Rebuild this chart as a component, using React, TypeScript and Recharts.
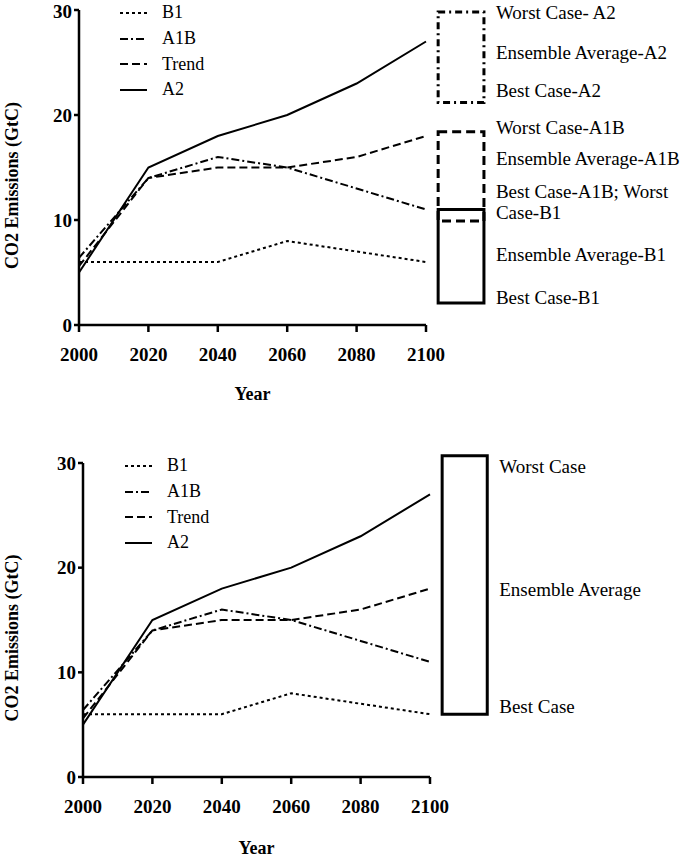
import React from 'react';
import {
  LineChart, Line, XAxis, YAxis, ReferenceArea, ReferenceDot
} from 'recharts';

const years = [2000, 2020, 2040, 2060, 2080, 2100];
const b1 = [6, 6, 6, 8, 7, 6];
const a1b = [6.4, 14, 16, 15, 13, 11];
const trend = [5.6, 14, 15, 15, 16, 18];
const a2 = [5, 15, 18, 20, 23, 27];

const xTicks = [2000, 2020, 2040, 2060, 2080, 2100];
const yTicks = [0, 10, 20, 30];

// scenario ranges drawn as boxes right of the plot
const topBoxes = [
  { name: 'A2', low: 21.2, high: 29.8, dash: '7 4 2 4' },
  { name: 'A1B', low: 9.9, high: 18.4, dash: '9 5' },
  { name: 'B1', low: 2.1, high: 11, dash: undefined },
];
const topBoxLabels = [
  { text: 'Worst Case- A2', y: 29.8 },
  { text: 'Ensemble Average-A2', y: 26 },
  { text: 'Best Case-A2', y: 22.4 },
  { text: 'Worst Case-A1B', y: 18.8 },
  { text: 'Ensemble Average-A1B', y: 15.9 },
  { text: 'Best Case-A1B; Worst', y: 12.7 },
  { text: 'Case-B1', y: 10.7 },
  { text: 'Ensemble Average-B1', y: 6.7 },
  { text: 'Best Case-B1', y: 2.6 },
];
const bottomBox = { low: 6, high: 30.7 };
const bottomBoxLabels = [
  { text: 'Worst Case', y: 29.7 },
  { text: 'Ensemble Average', y: 17.9 },
  { text: 'Best Case', y: 6.8 },
];

const data = years.map((year, i) => ({
  year, B1: b1[i], A1B: a1b[i], Trend: trend[i], A2: a2[i],
}));

const series = [
  { key: 'B1', dash: '3 3' },
  { key: 'A1B', dash: '8 3 2 3' },
  { key: 'Trend', dash: '8 4' },
  { key: 'A2', dash: undefined },
];

const FONT = '"Liberation Serif", "Times New Roman", serif';

const LegendBox = ({ left, top }: { left: number; top: number }) => (
  <div style={{ position: 'absolute', left, top, fontFamily: FONT, fontSize: 18, zIndex: 2 }}>
    {series.map((s) => (
      <div key={s.key} style={{ display: 'flex', alignItems: 'center', height: 25.7 }}>
        <svg width={42} height={10} style={{ display: 'block' }}>
          <line x1={0} x2={27} y1={5} y2={5} stroke="#000" strokeWidth={2} strokeDasharray={s.dash} />
        </svg>
        <span>{s.key}</span>
      </div>
    ))}
  </div>
);

const YLabel = (props: any) => {
  const vb = props.viewBox;
  const cx = 12;
  const cy = vb.y + vb.height / 2 + 18;
  return (
    <text x={cx} y={cy} transform={`rotate(-90 ${cx} ${cy})`} textAnchor="middle"
      dominantBaseline="central" fontFamily={FONT} fontSize={18} fontWeight="bold" fill="#000">
      CO2 Emissions (GtC)
    </text>
  );
};

const tickStyle = { fontSize: 19, fontWeight: 'bold' as const, fill: '#000', fontFamily: FONT };

function Panel({ top, height, margin, yw, legendTop, legendLeft, boxes, labels, boxX, yearOffset }: any) {
  return (
    <div style={{ position: 'absolute', left: 0, top, width: 683, height }}>
      <LineChart width={683} height={height} data={data} margin={margin} style={{ fontFamily: FONT }}>
        <XAxis
          dataKey="year" type="number" domain={[2000, 2100]} ticks={xTicks}
          tickSize={7} tickMargin={16} tick={tickStyle} height={80}
          axisLine={{ stroke: '#000', strokeWidth: 2.5 }} tickLine={{ stroke: '#000', strokeWidth: 2.5 }}
          label={{ value: 'Year', position: 'insideBottom', offset: yearOffset, fill: '#000', fontSize: 18, fontWeight: 'bold', fontFamily: FONT }}
        />
        <YAxis
          type="number" domain={[0, 30]} ticks={yTicks} width={yw}
          tickSize={5} tickMargin={2} tick={tickStyle}
          axisLine={{ stroke: '#000', strokeWidth: 2.5 }} tickLine={{ stroke: '#000', strokeWidth: 2.5 }}
          label={<YLabel />}
        />
        {series.map((s) => (
          <Line key={s.key} type="linear" dataKey={s.key} stroke="#000" strokeWidth={2}
            strokeDasharray={s.dash} dot={false} isAnimationActive={false} />
        ))}
        {boxes.map((b: any, i: number) => (
          <ReferenceArea key={i} x1={boxX[0]} x2={boxX[1]} y1={b.low} y2={b.high}
            ifOverflow="visible" fill="none" stroke="#000" strokeWidth={3} strokeDasharray={b.dash} />
        ))}
        {labels.map((l: any, i: number) => (
          <ReferenceDot key={i} x={boxX[1]} y={l.y} r={0} ifOverflow="visible"
            label={{ value: l.text, position: 'right', offset: 12, fill: '#000', fontSize: 19, fontFamily: FONT }} />
        ))}
      </LineChart>
      <LegendBox left={legendLeft} top={legendTop} />
    </div>
  );
}

export default function App() {
  return (
    <div style={{ position: 'absolute', left: 0, top: 0, width: 683, height: 857, background: '#fff' }}>
      <Panel
        top={0} height={420} yw={79}
        margin={{ top: 10, right: 257, bottom: 15, left: 0 }}
        legendTop={0} legendLeft={120}
        boxes={topBoxes} labels={topBoxLabels} boxX={[2103.5, 2116.7]} yearOffset={5}
      />
      <Panel
        top={440} height={417} yw={83}
        margin={{ top: 23, right: 253, bottom: 0, left: 0 }}
        legendTop={13} legendLeft={125}
        boxes={[bottomBox]} labels={bottomBoxLabels} boxX={[2103.5, 2116.5]} yearOffset={3}
      />
    </div>
  );
}
